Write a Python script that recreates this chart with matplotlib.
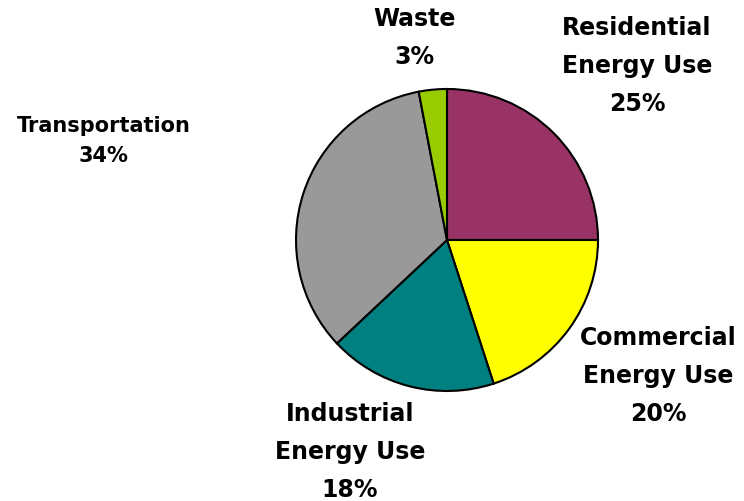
import matplotlib.pyplot as plt

# emission sources, clockwise from the top
labels = ["Residential\nEnergy Use", "Commercial\nEnergy Use", "Industrial\nEnergy Use",
          "Transportation", "Waste"]
shares = [25, 20, 18, 34, 3]
colors = ["#993366", "#FFFF00", "#008080", "#999999", "#99CC00"]

W, H = 744, 501
fig = plt.figure(figsize=(W / 100, H / 100), dpi=100)
ax = fig.add_axes([0, 0, 1, 1])

ax.pie(shares, colors=colors, startangle=90, counterclock=False,
       center=(447, H - 240), radius=151, frame=True,
       wedgeprops=dict(edgecolor="black", linewidth=1.5))
ax.set_xlim(0, W)
ax.set_ylim(0, H)
ax.set_aspect("equal")
ax.axis("off")

# label centres in pixel coords (x, y from top), font size, line spacing
label_pos = [(637, 66, 17, 1.75), (658, 376, 17, 1.75), (350, 452, 17, 1.75),
             (104, 141, 15, 1.6), (414, 38, 17, 1.75)]
for lab, s, (x, y, fs, ls) in zip(labels, shares, label_pos):
    ax.text(x, H - y, f"{lab}\n{s}%", ha="center", va="center", fontsize=fs,
            fontweight="bold", family="DejaVu Sans", linespacing=ls)

fig.savefig("out.png", dpi=100)
